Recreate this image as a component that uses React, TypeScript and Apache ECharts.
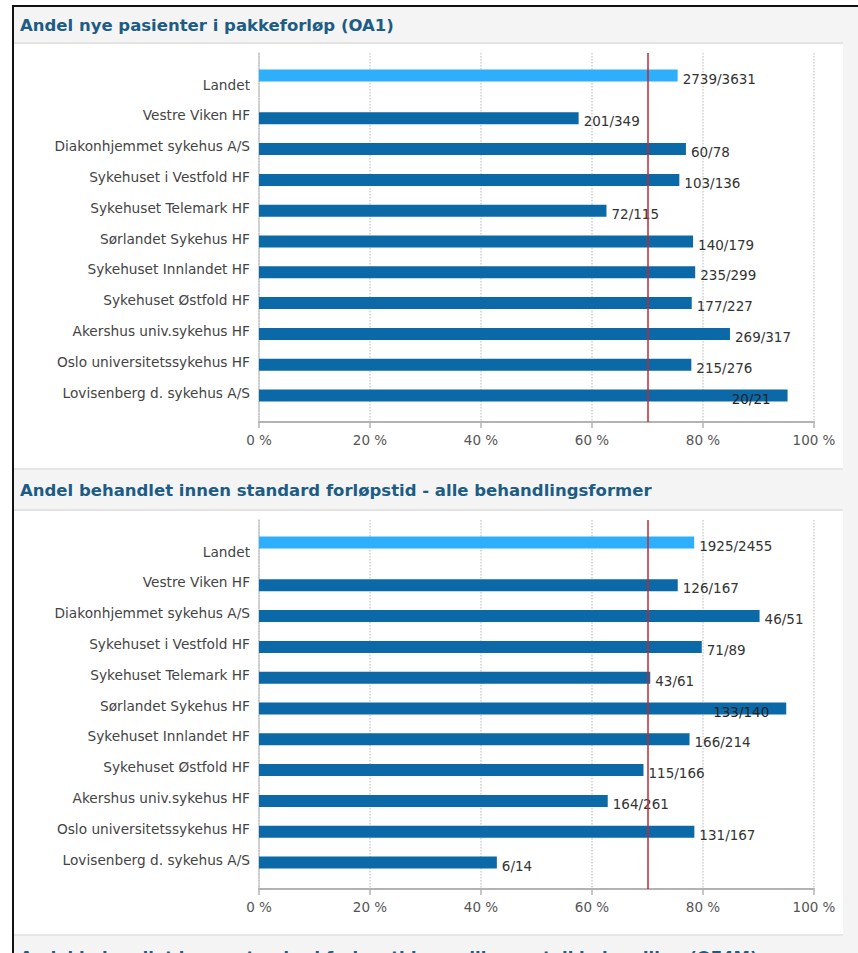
import React, { useEffect, useRef } from "react";
import * as echarts from "echarts";

const categories = [
  "Landet",
  "Vestre Viken HF",
  "Diakonhjemmet sykehus A/S",
  "Sykehuset i Vestfold HF",
  "Sykehuset Telemark HF",
  "Sørlandet Sykehus HF",
  "Sykehuset Innlandet HF",
  "Sykehuset Østfold HF",
  "Akershus univ.sykehus HF",
  "Oslo universitetssykehus HF",
  "Lovisenberg d. sykehus A/S",
];

const oa1Num = [2739, 201, 60, 103, 72, 140, 235, 177, 269, 215, 20];
const oa1Den = [3631, 349, 78, 136, 115, 179, 299, 227, 317, 276, 21];
const of4Num = [1925, 126, 46, 71, 43, 133, 166, 115, 164, 131, 6];
const of4Den = [2455, 167, 51, 89, 61, 140, 214, 166, 261, 167, 14];

const titles = [
  "Andel nye pasienter i pakkeforløp (OA1)",
  "Andel behandlet innen standard forløpstid - alle behandlingsformer",
  "Andel behandlet innen standard forløpstid - medikamentell behandling (OF4M)",
];

const xMin = 0;
const xMax = 100;
const xInterval = 20;
const targetValue = 70;

const FONT = "DejaVu Sans";
const LANDET_COLOR = "#2eaffb";
const HF_COLOR = "#0b69a7";

export default function App() {
  const ref = useRef<HTMLDivElement>(null);

  useEffect(() => {
    if (!ref.current) return;
    const chart = echarts.init(ref.current, undefined, { renderer: "svg" });

    const grid: any[] = [];
    const xAxis: any[] = [];
    const yAxis: any[] = [];
    const series: any[] = [];

    const addPanel = (offset: number, num: number[], den: number[]) => {
      const base = grid.length;
      grid.push({ left: 259, width: 555, top: 53 + offset, height: 369 });
      grid.push({ left: 259, width: 555, top: 66.1 + offset, height: 338.8 });

      xAxis.push({
        type: "value",
        gridIndex: base,
        min: xMin,
        max: xMax,
        interval: xInterval,
        axisLine: { show: true, lineStyle: { color: "#b3b3b3", width: 2 } },
        axisTick: { show: true, length: 6, lineStyle: { color: "#b3b3b3", width: 1.5 } },
        axisLabel: {
          formatter: "{value} %",
          color: "#555",
          fontFamily: FONT,
          fontSize: 13.5,
          margin: 11,
        },
        splitLine: {
          show: true,
          lineStyle: { color: "#cfcfcf", width: 1.5, type: [1.5, 1.5] },
        },
      });
      xAxis.push({
        type: "value",
        gridIndex: base + 1,
        min: xMin,
        max: xMax,
        show: false,
      });
      yAxis.push({
        type: "value",
        gridIndex: base,
        min: 0,
        max: 1,
        axisLine: { show: true, lineStyle: { color: "#c4c4c4", width: 1.5, type: [1.5, 1] } },
        axisTick: { show: false },
        axisLabel: { show: false },
        splitLine: { show: false },
      });
      yAxis.push({
        type: "category",
        gridIndex: base + 1,
        data: categories,
        inverse: true,
        axisLine: { show: false },
        axisTick: { show: false },
        splitLine: { show: false },
        axisLabel: {
          color: "#444",
          fontFamily: FONT,
          fontSize: 13.7,
          margin: 9,
          verticalAlign: "top",
          lineHeight: 6,
        },
      });

      const item = (j: number) => {
        const v = (num[j] / den[j]) * 100;
        const d: any = { value: v };
        if (v > 92) {
          d.label = { position: "insideRight", distance: 17, color: "#222" };
        }
        return d;
      };
      const labelCfg = {
        show: true,
        position: "right",
        distance: 5,
        offset: [0, 3],
        color: "#333",
        fontFamily: FONT,
        fontSize: 13.5,
        formatter: (p: any) => `${num[p.dataIndex]}/${den[p.dataIndex]}`,
      };

      series.push({
        type: "bar",
        name: "Landet",
        xAxisIndex: base + 1,
        yAxisIndex: base + 1,
        barWidth: 12,
        barGap: "0%",
        itemStyle: { color: LANDET_COLOR },
        label: labelCfg,
        data: num.map((_, j) => (j === 0 ? item(j) : "-")),
      });
      series.push({
        type: "bar",
        name: "HF",
        xAxisIndex: base + 1,
        yAxisIndex: base + 1,
        barWidth: 12,
        barGap: "0%",
        itemStyle: { color: HF_COLOR },
        label: labelCfg,
        data: num.map((_, j) => (j === 0 ? "-" : item(j))),
      });
      series.push({
        type: "line",
        xAxisIndex: base,
        yAxisIndex: base,
        data: [[0, 0]],
        symbol: "none",
        lineStyle: { opacity: 0 },
        silent: true,
        markLine: {
          symbol: "none",
          silent: true,
          label: { show: false },
          lineStyle: { color: "#bf2a30", width: 1.5, type: "solid" },
          data: [{ xAxis: targetValue }],
        },
      });
    };

    addPanel(0, oa1Num, oa1Den);
    addPanel(467, of4Num, of4Den);

    const titleY = [25, 490, 957];
    const graphic: any[] = [
      { type: "rect", z: -10, shape: { x: 14, y: 7, width: 844, height: 946 }, style: { fill: "#f4f4f4" } },
      { type: "rect", z: -9, shape: { x: 14, y: 44, width: 829, height: 424 }, style: { fill: "#ffffff" } },
      { type: "rect", z: -9, shape: { x: 14, y: 511, width: 829, height: 423 }, style: { fill: "#ffffff" } },
      { type: "rect", z: -9, shape: { x: 14, y: 42, width: 829, height: 2 }, style: { fill: "#e3e3e3" } },
      { type: "rect", z: -9, shape: { x: 14, y: 468, width: 829, height: 2 }, style: { fill: "#e6e6e6" } },
      { type: "rect", z: -9, shape: { x: 14, y: 509, width: 829, height: 2 }, style: { fill: "#e3e3e3" } },
      { type: "rect", z: -9, shape: { x: 14, y: 934, width: 829, height: 2 }, style: { fill: "#e6e6e6" } },
      { type: "rect", z: -8, shape: { x: 12, y: 5, width: 846, height: 2 }, style: { fill: "#111" } },
      { type: "rect", z: -8, shape: { x: 12, y: 5, width: 2, height: 948 }, style: { fill: "#111" } },
      ...titles.map((t, i) => ({
        type: "text",
        z: -7,
        x: 20,
        y: titleY[i],
        style: {
          text: t,
          fill: "#1c5c85",
          font: `bold 16.5px "${FONT}"`,
          verticalAlign: "middle",
          align: "left",
        },
      })),
    ];

    chart.setOption({
      animation: false,
      backgroundColor: "#ffffff",
      grid,
      xAxis,
      yAxis,
      series,
      graphic,
    });

    return () => chart.dispose();
  }, []);

  return (
    <div
      ref={ref}
      style={{ position: "fixed", left: 0, top: 0, width: 858, height: 953 }}
    />
  );
}
